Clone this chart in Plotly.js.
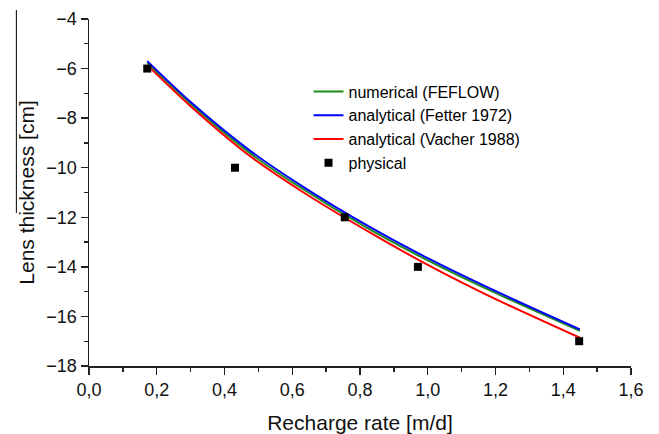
<!DOCTYPE html>
<html>
<head>
<meta charset="utf-8">
<script src="https://cdn.plot.ly/plotly-3.0.1.min.js"></script>
<style>html,body{margin:0;padding:0;background:#fff;}#chart{width:659px;height:434px;}</style>
</head>
<body>
<div id="chart"></div>
<script>
// Curve sample positions (recharge rate, m/d)
const curveX = [0.172, 0.30, 0.476, 0.63, 0.83, 1.0, 1.185, 1.449];
// Lens thickness (cm)
const numericalFEFLOW = [-5.77, -7.42, -9.42, -10.85, -12.50, -13.74, -14.96, -16.58];
const fetter1972 = [-5.70, -7.35, -9.32, -10.75, -12.40, -13.65, -14.88, -16.52];
const vacher1988 = [-5.86, -7.52, -9.54, -10.97, -12.62, -13.92, -15.20, -16.86];
// Physical model measurements
const physicalX = [0.172, 0.431, 0.755, 0.971, 1.447];
const physicalY = [-6, -10, -12, -14, -17];

const names = ['numerical (FEFLOW)', 'analytical (Fetter 1972)', 'analytical (Vacher 1988)', 'physical'];

const font = 'Arial, "Liberation Sans", Helvetica, sans-serif';

const traces = [
  {x: curveX, y: numericalFEFLOW, name: names[0], mode: 'lines', type: 'scatter',
   line: {color: '#1a8a1a', width: 2, shape: 'spline', smoothing: 0.8}},
  {x: curveX, y: fetter1972, name: names[1], mode: 'lines', type: 'scatter',
   line: {color: '#0000ff', width: 2, shape: 'spline', smoothing: 0.8}},
  {x: curveX, y: vacher1988, name: names[2], mode: 'lines', type: 'scatter',
   line: {color: '#ff0000', width: 2, shape: 'spline', smoothing: 0.8}},
  {x: physicalX, y: physicalY, name: names[3], mode: 'markers', type: 'scatter',
   marker: {symbol: 'square', color: '#000', size: 8}}
];

const layout = {
  width: 659, height: 434,
  margin: {l: 89, r: 28, t: 19, b: 68},
  paper_bgcolor: '#fff', plot_bgcolor: '#fff',
  separators: ',.',
  font: {family: font, color: '#000'},
  showlegend: true,
  legend: {x: 0.405, y: 0.84, xanchor: 'left', yanchor: 'top',
           bgcolor: 'rgba(0,0,0,0)', font: {family: font, size: 16, color: '#000'},
           tracegroupgap: 0},
  xaxis: {
    range: [0, 1.6], tick0: 0, dtick: 0.2, tickformat: '.1f',
    showgrid: false, zeroline: false, showline: true, linecolor: '#222', linewidth: 1.5,
    ticks: 'outside', ticklen: 7, tickwidth: 1.3, tickcolor: '#222',
    minor: {dtick: 0.1, ticks: 'outside', ticklen: 4, tickwidth: 1.3, tickcolor: '#222', showgrid: false},
    tickfont: {family: font, size: 18, color: '#111'},
    title: {text: 'Recharge rate [m/d]', font: {family: font, size: 21, color: '#111'}, standoff: 16},
    fixedrange: true
  },
  yaxis: {
    range: [-18, -4], tick0: -18, dtick: 2,
    showgrid: false, zeroline: false, showline: true, linecolor: '#222', linewidth: 1.5,
    ticks: 'outside', ticklen: 7, tickwidth: 1.3, tickcolor: '#222',
    minor: {dtick: 1, ticks: 'outside', ticklen: 4, tickwidth: 1.3, tickcolor: '#222', showgrid: false},
    tickfont: {family: font, size: 18, color: '#111'},
    title: {text: 'Lens thickness [cm]', font: {family: font, size: 21, color: '#111'}, standoff: 6},
    fixedrange: true
  },
  shapes: [
    {type: 'line', xref: 'paper', yref: 'paper', x0: -0.134, x1: -0.134, y0: 1.026, y1: 0.441,
     line: {color: '#000', width: 1}}
  ]
};

Plotly.newPlot('chart', traces, layout, {displayModeBar: false, staticPlot: true});
</script>
</body>
</html>
